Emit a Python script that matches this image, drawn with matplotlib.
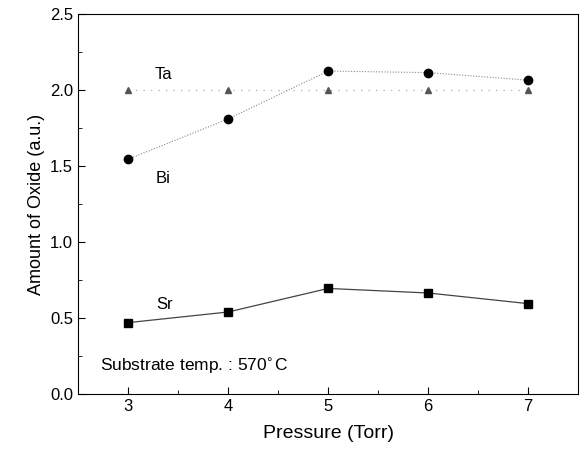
import matplotlib
matplotlib.use('Agg')
import matplotlib.pyplot as plt
from matplotlib.ticker import MultipleLocator

plt.rcParams['font.family'] = ['Liberation Sans', 'DejaVu Sans']

pressure = [3, 4, 5, 6, 7]
sr = [0.47, 0.54, 0.695, 0.665, 0.595]
bi = [1.545, 1.81, 2.125, 2.115, 2.065]
ta = [2.0, 2.0, 2.0, 2.0, 2.0]

fig = plt.figure(figsize=(5.87, 4.54), dpi=100)
ax = fig.add_axes([0.133, 0.132, 0.852, 0.837])

# Ta - sparse dotted grey line with triangles
ax.plot(pressure, ta, color='#aaaaaa', linestyle=(0, (1, 5)), linewidth=0.9,
        marker='^', markersize=5, markerfacecolor='#555555', markeredgecolor='#555555')
# Bi - dotted line with circles
ax.plot(pressure, bi, color='#888888', linestyle=(0, (1, 1.5)), linewidth=0.8,
        marker='o', markersize=6, markerfacecolor='black', markeredgecolor='black')
# Sr - solid line with squares
ax.plot(pressure, sr, color='#444444', linestyle='-', linewidth=0.9,
        marker='s', markersize=6, markerfacecolor='black', markeredgecolor='black')

ax.text(3.27, 2.075, 'Ta', fontsize=12)
ax.text(3.28, 1.39, 'Bi', fontsize=12)
ax.text(3.28, 0.56, 'Sr', fontsize=12)
ax.text(2.72, 0.15, 'Substrate temp. : 570$^{\\circ}$C', fontsize=12.5)

ax.set_xlim(2.5, 7.5)
ax.set_ylim(0, 2.5)
ax.xaxis.set_major_locator(MultipleLocator(1))
ax.xaxis.set_minor_locator(MultipleLocator(0.5))
ax.yaxis.set_major_locator(MultipleLocator(0.5))
ax.yaxis.set_minor_locator(MultipleLocator(0.25))
ax.yaxis.set_major_formatter(plt.FormatStrFormatter('%.1f'))
ax.tick_params(which='both', direction='in', labelsize=12)
ax.tick_params(which='major', length=5)
ax.tick_params(which='minor', length=3)

ax.set_xlabel('Pressure (Torr)', fontsize=14, labelpad=8)
ax.set_ylabel('Amount of Oxide (a.u.)', fontsize=13)

fig.savefig('out.png', dpi=100)
